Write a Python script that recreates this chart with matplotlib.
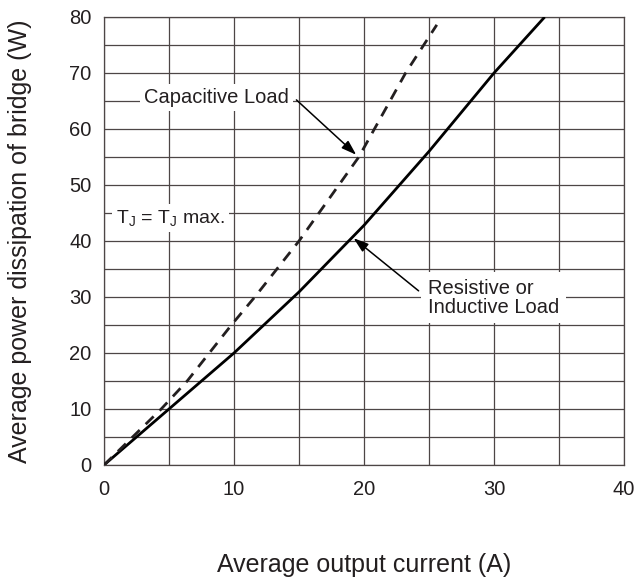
import matplotlib
matplotlib.use("Agg")
import matplotlib.pyplot as plt

plt.rcParams['font.family'] = ['Liberation Sans', 'DejaVu Sans']
plt.rcParams['mathtext.fontset'] = 'custom'
plt.rcParams['mathtext.rm'] = 'Liberation Sans'
plt.rcParams['mathtext.it'] = 'Liberation Sans'

# Data
res_x = [0, 5, 10, 15, 20, 25, 30, 33.9]
res_y = [0, 10, 20, 30.9, 42.8, 56.0, 70, 80]
cap_x = [0, 4.4, 6.4, 9.8, 11.6, 15, 19.6, 23.2, 25.6]
cap_y = [0, 10, 15, 25, 30, 40, 55, 70, 78.6]
x_ticks = [0, 10, 20, 30, 40]
y_ticks = [0, 10, 20, 30, 40, 50, 60, 70, 80]
x_grid = [0, 5, 10, 15, 20, 25, 30, 35, 40]
y_grid = [0, 5, 10, 15, 20, 25, 30, 35, 40, 45, 50, 55, 60, 65, 70, 75, 80]

TXT = '#231f20'
GRID = '#4d4646'

fig = plt.figure(figsize=(6.39, 5.8), dpi=100)
ax = fig.add_axes([104/639, 1-465/580, 520/639, 448/580])
ax.set_xlim(0, 40)
ax.set_ylim(0, 80)

for gx in x_grid:
    ax.axvline(gx, color=GRID, lw=0.9, zorder=1)
for gy in y_grid:
    ax.axhline(gy, color=GRID, lw=0.9, zorder=1)

ax.plot(res_x, res_y, color='black', lw=2.0, zorder=4, solid_capstyle='butt')
ax.plot(cap_x, cap_y, color='#231f20', lw=2.0, zorder=4, dashes=(4, 3))

ax.set_xticks(x_ticks)
ax.set_yticks(y_ticks)
ax.tick_params(length=0, labelsize=14.5, labelcolor=TXT)
ax.tick_params(axis='y', pad=9)
ax.tick_params(axis='x', pad=11)
for s in ax.spines.values():
    s.set_color(GRID)
    s.set_linewidth(0.9)

fig.text(20/639, 1-241/580, 'Average power dissipation of bridge (W)', rotation=90,
         ha='center', va='center', fontsize=18, color=TXT)
fig.text(364/639, 1-565/580, 'Average output current (A)', ha='center', va='center',
         fontsize=18, color=TXT)

arrow = dict(arrowstyle='-|>,head_length=0.9,head_width=0.3', color='black', lw=1.1,
             shrinkA=0, shrinkB=0)
box = dict(facecolor='white', edgecolor='none', pad=3)

ax.text(8.65, 65.6, 'Capacitive Load', ha='center', va='center', fontsize=14.5,
        color=TXT, bbox=box, zorder=5)
ax.annotate('', xy=(19.4, 55.4), xytext=(14.8, 65.2), arrowprops=arrow, zorder=6)

ax.text(5.1, 44.1, r'T$_\mathrm{J}$ = T$_\mathrm{J}$ max.', ha='center', va='center',
        fontsize=14, color=TXT, bbox=box, zorder=5)

ax.text(24.9, 29.9, 'Resistive or\nInductive Load', ha='left', va='center', fontsize=14.5,
        color=TXT, linespacing=1.0,
        bbox=dict(facecolor='white', edgecolor='none', pad=5), zorder=5)
ax.annotate('', xy=(19.2, 40.5), xytext=(24.2, 31.1), arrowprops=arrow, zorder=6)

fig.savefig('out.png', dpi=100)
